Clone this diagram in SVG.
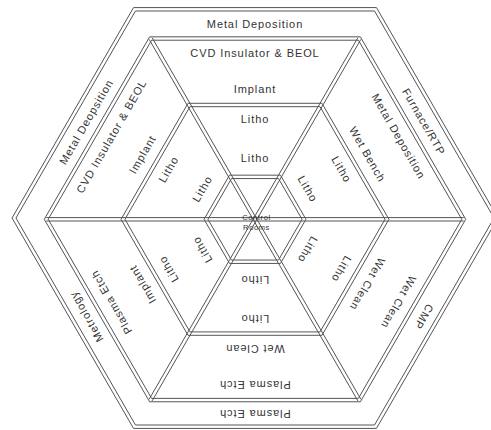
<svg xmlns="http://www.w3.org/2000/svg" width="491" height="430" viewBox="0 0 491 430">
<style>
.ln{fill:none;stroke:#555;stroke-width:1}
.t{font-family:"Liberation Sans",Arial,sans-serif;font-size:11px;letter-spacing:0.9px;fill:#333;text-anchor:middle}
.s{font-family:"Liberation Sans",Arial,sans-serif;font-size:7.5px;letter-spacing:0.6px;fill:#333;text-anchor:middle}
</style>
<rect width="491" height="430" fill="#fff"/>
<g id="connectors">
  <g id="hex-outer">
    <polygon class="ln" points="12.04,218 133.52,7.59 376.48,7.59 497.96,218 376.48,428.41 133.52,428.41"/>
    <polygon class="ln" points="15.96,218 135.48,10.99 374.52,10.99 494.04,218 374.52,425.01 135.48,425.01"/>
  </g>
  <g id="hex-2">
    <polygon class="ln" points="44.29,219.3 149.64,36.82 360.36,36.82 465.71,219.3 360.36,401.78 149.64,401.78"/>
    <polygon class="ln" points="48.21,219.3 151.6,40.21 358.4,40.21 461.79,219.3 358.4,398.39 151.6,398.39"/>
  </g>
  <g id="hex-3">
    <polygon class="ln" points="121.04,219.3 188.02,103.29 321.98,103.29 388.96,219.3 321.98,335.31 188.02,335.31"/>
    <polygon class="ln" points="124.96,219.3 189.98,106.68 320.02,106.68 385.04,219.3 320.02,331.92 189.98,331.92"/>
  </g>
  <g id="hex-4">
    <polygon class="ln" points="204.04,219.3 229.52,175.17 280.48,175.17 305.96,219.3 280.48,263.43 229.52,263.43"/>
    <polygon class="ln" points="207.96,219.3 231.48,178.56 278.52,178.56 302.04,219.3 278.52,260.04 231.48,260.04"/>
  </g>
  <g id="diagonals">
    <line class="ln" x1="46.25" y1="217.6" x2="463.75" y2="217.6"/>
    <line class="ln" x1="46.25" y1="221" x2="463.75" y2="221"/>
    <line class="ln" x1="152.09" y1="37.67" x2="360.85" y2="399.23"/>
    <line class="ln" x1="149.15" y1="39.37" x2="357.91" y2="400.93"/>
    <line class="ln" x1="360.85" y1="39.37" x2="152.09" y2="400.93"/>
    <line class="ln" x1="357.91" y1="37.67" x2="149.15" y2="399.23"/>
  </g>
</g>
<g id="side-top">
  <g id="top-outer"><text class="t" x="255" y="28.3">Metal Deposition</text></g>
  <g id="top-band2-outer"><text class="t" x="255" y="57.3">CVD Insulator &amp; BEOL</text></g>
  <g id="top-band2-inner"><text class="t" x="255" y="93.3">Implant</text></g>
  <g id="top-band3-outer"><text class="t" x="255" y="123.3">Litho</text></g>
  <g id="top-band3-inner"><text class="t" x="255" y="162.3">Litho</text></g>
</g>
<g id="side-upper-right" transform="rotate(60 255 219.3)">
  <g id="ur-outer"><text class="t" x="255" y="28.3">Furnace/RTP</text></g>
  <g id="ur-band2-outer"><text class="t" x="255" y="57.3">Metal Deposition</text></g>
  <g id="ur-band2-inner"><text class="t" x="255" y="93.3">Wet Bench</text></g>
  <g id="ur-band3-outer"><text class="t" x="255" y="123.3">Litho</text></g>
  <g id="ur-band3-inner"><text class="t" x="255" y="162.3">Litho</text></g>
</g>
<g id="side-lower-right" transform="rotate(120 255 219.3)">
  <g id="lr-outer"><text class="t" x="255" y="28.3">CMP</text></g>
  <g id="lr-band2-outer"><text class="t" x="255" y="57.3">Wet Clean</text></g>
  <g id="lr-band2-inner"><text class="t" x="255" y="93.3">Wet Clean</text></g>
  <g id="lr-band3-outer"><text class="t" x="255" y="123.3">Litho</text></g>
  <g id="lr-band3-inner"><text class="t" x="255" y="162.3">Litho</text></g>
</g>
<g id="side-bottom" transform="rotate(180 255 219.3)">
  <g id="bot-outer"><text class="t" x="255" y="28.3">Plasma Etch</text></g>
  <g id="bot-band2-outer"><text class="t" x="255" y="57.3">Plasma Etch</text></g>
  <g id="bot-band2-inner"><text class="t" x="255" y="93.3">Wet Clean</text></g>
  <g id="bot-band3-outer"><text class="t" x="255" y="123.3">Litho</text></g>
  <g id="bot-band3-inner"><text class="t" x="255" y="162.3">Litho</text></g>
</g>
<g id="side-lower-left" transform="rotate(240 255 219.3)">
  <g id="ll-outer"><text class="t" x="255" y="28.3">Metrology</text></g>
  <g id="ll-band2-outer"><text class="t" x="255" y="57.3">Plasma Etch</text></g>
  <g id="ll-band2-inner"><text class="t" x="255" y="93.3">Implant</text></g>
  <g id="ll-band3-outer"><text class="t" x="255" y="123.3">Litho</text></g>
  <g id="ll-band3-inner"><text class="t" x="255" y="162.3">Litho</text></g>
</g>
<g id="side-upper-left" transform="rotate(300 255 219.3)">
  <g id="ul-outer"><text class="t" x="255" y="28.3">Metal Deopsition</text></g>
  <g id="ul-band2-outer"><text class="t" x="255" y="57.3">CVD Insulator &amp; BEOL</text></g>
  <g id="ul-band2-inner"><text class="t" x="255" y="93.3">Implant</text></g>
  <g id="ul-band3-outer"><text class="t" x="255" y="123.3">Litho</text></g>
  <g id="ul-band3-inner"><text class="t" x="255" y="162.3">Litho</text></g>
</g>
<g id="control-rooms">
  <text class="s" x="256.5" y="220">Control</text>
  <text class="s" x="256.5" y="229.5">Rooms</text>
</g>
</svg>
